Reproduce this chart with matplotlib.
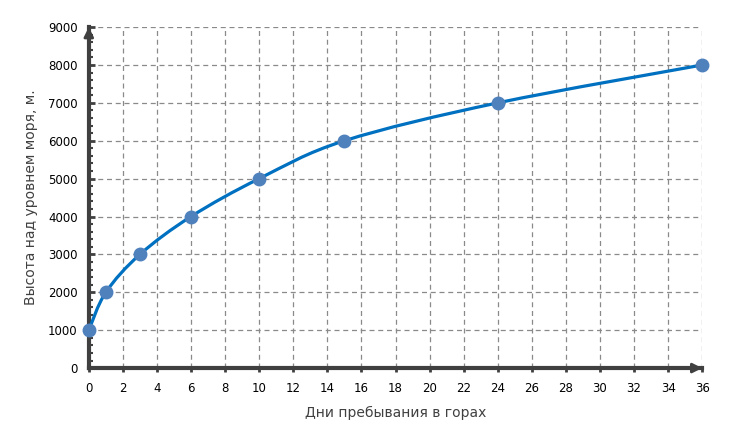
import numpy as np
import matplotlib
matplotlib.use("Agg")
import matplotlib.pyplot as plt
from matplotlib.path import Path
from matplotlib.patches import PathPatch
from matplotlib.ticker import MultipleLocator

days = [0, 1, 3, 6, 10, 15, 24, 36]
height = [1000, 2000, 3000, 4000, 5000, 6000, 7000, 8000]

lineColor = "#0070C0"
markerColor = "#4F81BD"
axisColor = "#404040"

fig = plt.figure(figsize=(7.4, 4.3), dpi=100)
ax = fig.add_axes([0.120, 0.144, 0.829, 0.793])

# smooth line like excel: bezier segments through the points
x = np.array(days, dtype=float)
y = np.array(height, dtype=float)
t = 1 / 6
verts = [(x[0], y[0])]
codes = [Path.MOVETO]
for i in range(len(x) - 1):
    p0 = i - 1 if i > 0 else i
    p3 = i + 2 if i + 2 < len(x) else i + 1
    c1 = (x[i] + (x[i + 1] - x[p0]) * t, y[i] + (y[i + 1] - y[p0]) * t)
    c2 = (x[i + 1] - (x[p3] - x[i]) * t, y[i + 1] - (y[p3] - y[i]) * t)
    verts += [c1, c2, (x[i + 1], y[i + 1])]
    codes += [Path.CURVE4] * 3
ax.add_patch(PathPatch(Path(verts, codes), facecolor="none", edgecolor=lineColor,
                       lw=2.3, zorder=3, capstyle="round"))
ax.plot(days, height, "o", color=markerColor, ms=9, zorder=4, clip_on=False)

ax.set_xlim(0, 36)
ax.set_ylim(0, 9000)
ax.xaxis.set_major_locator(MultipleLocator(2))
ax.yaxis.set_major_locator(MultipleLocator(1000))
ax.yaxis.set_minor_locator(MultipleLocator(200))
ax.grid(True, which="major", color="#8a8a8a", ls=(0, (4, 3)), lw=0.9)

for s in ["top", "right"]:
    ax.spines[s].set_visible(False)
for s in ["left", "bottom"]:
    ax.spines[s].set_color(axisColor)
    ax.spines[s].set_linewidth(3)
ax.tick_params(axis="both", which="major", colors=axisColor, labelcolor="black",
               labelsize=8.5, width=2)
ax.tick_params(axis="x", direction="out", length=3, pad=7)
ax.tick_params(axis="y", which="major", direction="in", length=4, pad=8)
ax.tick_params(axis="y", which="minor", direction="in", color=axisColor, width=1.5, length=3)

# arrow heads
ax.annotate("", xy=(0, 9000), xytext=(0, 8500), annotation_clip=False,
            arrowprops=dict(arrowstyle="-|>", mutation_scale=14, color=axisColor,
                            lw=2, shrinkA=0, shrinkB=0))
ax.annotate("", xy=(36, 0), xytext=(35, 0), annotation_clip=False,
            arrowprops=dict(arrowstyle="-|>", mutation_scale=14, color=axisColor,
                            lw=2, shrinkA=0, shrinkB=0))

ax.set_xlabel("Дни пребывания в горах", fontsize=10, color="#404040", labelpad=8)
ax.set_ylabel("Высота над уровнем моря, м.", fontsize=10, color="#404040", labelpad=7)

fig.savefig("out.png", dpi=100)
